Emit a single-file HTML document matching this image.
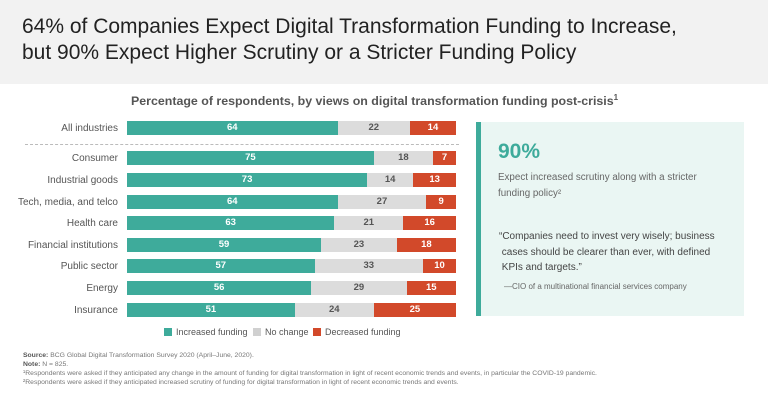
<!DOCTYPE html><html><head><meta charset="utf-8"><style>
body{margin:0;width:768px;height:402px;background:#fff;font-family:"Liberation Sans",sans-serif;position:relative;overflow:hidden}
.hdr{position:absolute;left:0;top:0;width:768px;height:84px;background:#f2f2f2}
.hdr div{position:absolute;left:22px;top:14px;font-size:21px;line-height:26px;color:#222}
.sub{position:absolute;left:131px;top:93px;font-size:12.4px;font-weight:bold;color:#555;white-space:nowrap}
.lab{position:absolute;right:650px;font-size:10px;color:#555;text-align:right;white-space:nowrap}
.bar{position:absolute;height:14px;font-size:9.5px;font-weight:bold;text-align:center;line-height:14px}
.t{background:#3eab9b;color:#fff}.g{background:#dcdcdc;color:#555}.r{background:#d2492a;color:#fff}
.dash{position:absolute;left:25px;top:144px;width:434px;border-top:1px dashed #bbb}
.panel{position:absolute;left:476px;top:122px;width:268px;height:194px;background:#eaf6f3;border-left:5px solid #3eab9b;box-sizing:border-box}
.leg{position:absolute;top:327px;font-size:9px;color:#555}
.leg span{display:inline-block;width:8px;height:8px;vertical-align:-1px;margin-right:4px}
.fn{position:absolute;left:23px;font-size:6.8px;color:#777;white-space:nowrap}
</style></head><body>
<div class="hdr"><div>64% of Companies Expect Digital Transformation Funding to Increase,<br>but 90% Expect Higher Scrutiny or a Stricter Funding Policy</div></div>
<div class="sub">Percentage of respondents, by views on digital transformation funding post-crisis<sup style="font-size:8px">1</sup></div>
<div class="dash"></div>
<div id="rows"></div>
<div class="panel">
<div style="position:absolute;left:17px;top:18px;font-size:21px;font-weight:bold;color:#3eab9b">90%</div>
<div style="position:absolute;left:17px;top:48px;width:225px;font-size:9.8px;line-height:16px;color:#666">Expect increased scrutiny along with a stricter funding policy²</div>
<div style="position:absolute;left:18px;top:107px;width:245px;font-size:10px;line-height:15.5px;color:#444">“Companies need to invest very wisely; business<br>&nbsp;cases should be clearer than ever, with defined<br>&nbsp;KPIs and targets.”</div>
<div style="position:absolute;left:23px;top:160px;font-size:8px;color:#666">—CIO of a multinational financial services company</div>
</div>
<div class="leg" style="left:164px"><span style="background:#3eab9b"></span>Increased funding</div>
<div class="leg" style="left:253px"><span style="background:#d0d0d0"></span>No change</div>
<div class="leg" style="left:313px"><span style="background:#d2492a"></span>Decreased funding</div>
<div class="fn" style="top:352px"><b style="color:#555">Source:</b> BCG Global Digital Transformation Survey 2020 (April–June, 2020).</div>
<div class="fn" style="top:361px"><b style="color:#555">Note:</b> N = 825.</div>
<div class="fn" style="top:370px">¹Respondents were asked if they anticipated any change in the amount of funding for digital transformation in light of recent economic trends and events, in particular the COVID-19 pandemic.</div>
<div class="fn" style="top:379px">²Respondents were asked if they anticipated increased scrutiny of funding for digital transformation in light of recent economic trends and events.</div>
<script>
var d=[["All industries",64,22,14,128],["Consumer",75,18,7,158],["Industrial goods",73,14,13,180],["Tech, media, and telco",64,27,9,202],["Health care",63,21,16,223],["Financial institutions",59,23,18,245],["Public sector",57,33,10,266],["Energy",56,29,15,288],["Insurance",51,24,25,310]];
var h="",x0=127,W=329;
d.forEach(function(r){var y=r[4]-7;h+='<div class="lab" style="top:'+(y+2)+'px">'+r[0]+'</div>';
var a=W*r[1]/100,b=W*r[2]/100,c=W-a-b;
h+='<div class="bar t" style="left:'+x0+'px;top:'+y+'px;width:'+a+'px">'+r[1]+'</div>';
h+='<div class="bar g" style="left:'+(x0+a)+'px;top:'+y+'px;width:'+b+'px">'+r[2]+'</div>';
h+='<div class="bar r" style="left:'+(x0+a+b)+'px;top:'+y+'px;width:'+c+'px">'+r[3]+'</div>';});
document.getElementById("rows").innerHTML=h;
</script>
</body></html>
